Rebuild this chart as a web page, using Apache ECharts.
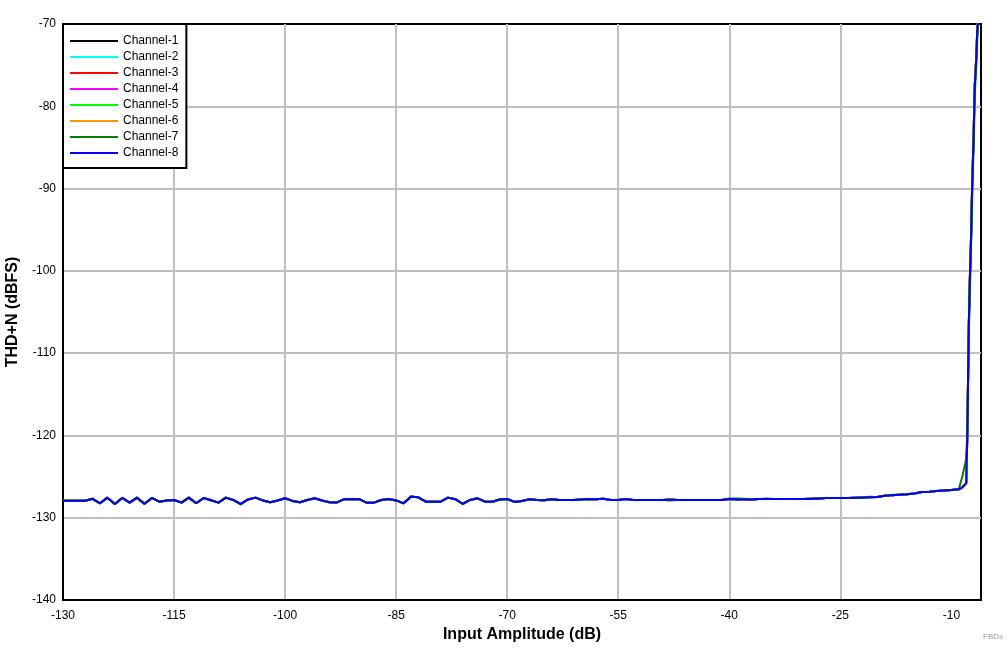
<!DOCTYPE html>
<html>
<head>
<meta charset="utf-8">
<script src="https://cdn.jsdelivr.net/npm/echarts@6/dist/echarts.min.js"></script>
<style>
html,body{margin:0;padding:0;background:#fff;}
#chart{width:1008px;height:652px;}
</style>
</head>
<body>
<div id="chart"></div>
<script>
// Input amplitude (dB) sample points
const inputAmplitude = [
-130,-129,-128,-127,-126,-125,-124,-123,-122,-121,
-120,-119,-118,-117,-116,-115,-114,-113,-112,-111,
-110,-109,-108,-107,-106,-105,-104,-103,-102,-101,
-100,-99,-98,-97,-96,-95,-94,-93,-92,-91,
-90,-89,-88,-87,-86,-85,-84,-83,-82,-81,
-80,-79,-78,-77,-76,-75,-74,-73,-72,-71,
-70,-69,-68,-67,-66,-65,-64,-63,-62,-61,
-60,-59,-58,-57,-56,-55,-54,-53,-52,-51,
-50,-49,-48,-47,-46,-45,-44,-43,-42,-41,
-40,-39,-38,-37,-36,-35,-34,-33,-32,-31,
-30,-29,-28,-27,-26,-25,-24,-23,-22,-21,
-20,-19,-18,-17,-16,-15,-14,-13,-12,-11,
-10,-9,
-8.5,-8,-7.85,-7.66,-7.53,-7.34,-7.2,-7,-6.85,-6.66,-6.5,-6.2
];

// THD+N (dBFS), Channel-8 (top trace, blue)
const ch8 = [
-127.93,-127.93,-127.93,-127.93,-127.70,-128.25,-127.56,-128.33,-127.60,-128.17,
-127.56,-128.33,-127.60,-128.05,-127.90,-127.84,-128.17,-127.56,-128.25,-127.60,
-127.87,-128.17,-127.56,-127.84,-128.33,-127.78,-127.56,-127.90,-128.12,-127.90,
-127.64,-127.96,-128.12,-127.84,-127.64,-127.90,-128.12,-128.14,-127.75,-127.72,
-127.75,-128.17,-128.17,-127.84,-127.72,-127.90,-128.25,-127.44,-127.52,-128.05,
-128.05,-128.05,-127.56,-127.75,-128.33,-127.84,-127.64,-128.05,-128.05,-127.78,
-127.72,-128.08,-127.96,-127.75,-127.84,-127.87,-127.75,-127.84,-127.84,-127.84,
-127.78,-127.72,-127.75,-127.69,-127.84,-127.84,-127.72,-127.84,-127.84,-127.84,
-127.84,-127.84,-127.78,-127.84,-127.84,-127.84,-127.84,-127.84,-127.84,-127.84,
-127.72,-127.80,-127.80,-127.80,-127.72,-127.72,-127.72,-127.72,-127.72,-127.72,
-127.72,-127.70,-127.69,-127.60,-127.60,-127.60,-127.60,-127.56,-127.56,-127.52,
-127.48,-127.32,-127.27,-127.20,-127.15,-127.05,-126.87,-126.83,-126.75,-126.69,
-126.63,-126.55,
-126.30,-125.80,-120.0,-107.2,-101.7,-95.85,-89.8,-83.7,-77.6,-74.4,-70.7,-66.0
];

// Channel-7 (green, peeks out slightly around the blue trace)
const ch7 = [
-127.93,-127.93,-127.93,-127.93,-127.70,-128.25,-127.56,-128.33,-127.60,-128.17,
-127.56,-128.25,-127.60,-128.05,-127.90,-127.84,-128.17,-127.56,-128.25,-127.60,
-127.87,-128.17,-127.56,-127.84,-128.40,-127.78,-127.56,-127.90,-128.12,-127.90,
-127.64,-127.96,-128.12,-127.84,-127.64,-127.90,-128.12,-128.14,-127.75,-127.72,
-127.75,-128.17,-128.17,-127.84,-127.72,-127.90,-128.25,-127.38,-127.52,-128.05,
-128.05,-128.05,-127.56,-127.75,-128.33,-127.84,-127.64,-128.05,-128.05,-127.78,
-127.72,-128.08,-127.96,-127.75,-127.84,-127.87,-127.75,-127.84,-127.84,-127.84,
-127.78,-127.72,-127.75,-127.69,-127.84,-127.84,-127.72,-127.84,-127.84,-127.84,
-127.84,-127.84,-127.90,-127.84,-127.84,-127.84,-127.84,-127.84,-127.84,-127.84,
-127.66,-127.66,-127.70,-127.80,-127.72,-127.66,-127.72,-127.72,-127.72,-127.72,
-127.72,-127.70,-127.62,-127.60,-127.60,-127.60,-127.60,-127.56,-127.50,-127.46,
-127.48,-127.32,-127.20,-127.20,-127.15,-127.05,-126.87,-126.83,-126.75,-126.69,
-126.63,-126.55,
-124.90,-122.90,-119.7,-108.4,-102.8,-96.8,-90.8,-84.7,-78.6,-75.4,-71.7,-67.0
];

// Channels 1-6 are hidden under Channel-8 in the picture: same readings
const ch1 = ch8, ch2 = ch8, ch3 = ch8, ch4 = ch8, ch5 = ch8, ch6 = ch8;

const channelNames = ['Channel-1','Channel-2','Channel-3','Channel-4','Channel-5','Channel-6','Channel-7','Channel-8'];
const channelValues = [ch1, ch2, ch3, ch4, ch5, ch6, ch7, ch8];
const channelColors = ['#000000','#00ffff','#ff0000','#ff00ff','#00ff00','#ff9900','#008000','#0000ff'];

const xTicks = [-130,-115,-100,-85,-70,-55,-40,-25,-10];

const FONT = '"Liberation Sans", Arial, sans-serif';

const chart = echarts.init(document.getElementById('chart'), null, {renderer: 'canvas'});

const series = channelNames.map((name, i) => ({
  name: name,
  type: 'line',
  symbol: 'none',
  showSymbol: false,
  clip: true,
  animation: false,
  lineStyle: {color: channelColors[i], width: 2},
  itemStyle: {color: channelColors[i]},
  data: inputAmplitude.map((x, k) => [x, channelValues[i][k]])
}));

chart.setOption({
  animation: false,
  backgroundColor: '#ffffff',
  grid: {
    left: 63, top: 24, right: 27, bottom: 52,
    outerBoundsMode: 'none',
    containLabel: false,
    show: true, borderColor: '#000', borderWidth: 2, backgroundColor: 'transparent'
  },
  legend: {
    orient: 'vertical',
    left: 63, top: 24,
    icon: 'path://M0,0H48V2H0Z',
    itemWidth: 48, itemHeight: 14, itemGap: 2,
    padding: [10, 8, 8, 7],
    backgroundColor: '#fff',
    borderColor: '#000', borderWidth: 2, borderRadius: 0,
    textStyle: {fontFamily: FONT, fontSize: 12, color: '#000', lineHeight: 14},
    data: channelNames
  },
  xAxis: {
    type: 'value',
    min: -130, max: -6,
    name: 'Input Amplitude (dB)',
    nameLocation: 'middle',
    nameGap: 26,
    nameTextStyle: {fontFamily: FONT, fontSize: 16, fontWeight: 'bold', color: '#000'},
    axisLine: {show: true, onZero: false, lineStyle: {color: '#000', width: 2}},
    axisTick: {show: false, customValues: xTicks},
    axisLabel: {customValues: xTicks, fontFamily: FONT, fontSize: 12, color: '#000', margin: 10},
    splitLine: {show: true, showMinLine: false, showMaxLine: false, lineStyle: {color: '#c0c0c0', width: 2}}
  },
  yAxis: {
    type: 'value',
    min: -140, max: -70, interval: 10,
    name: 'THD+N (dBFS)',
    nameLocation: 'middle',
    nameGap: 38,
    nameTextStyle: {fontFamily: FONT, fontSize: 16, fontWeight: 'bold', color: '#000'},
    axisLine: {show: true, onZero: false, lineStyle: {color: '#000', width: 2}},
    axisTick: {show: false},
    axisLabel: {fontFamily: FONT, fontSize: 12, color: '#000', margin: 7},
    splitLine: {show: true, showMinLine: false, showMaxLine: false, lineStyle: {color: '#c0c0c0', width: 2}}
  },
  graphic: [{
    type: 'text', left: 983, top: 633, z: 100,
    style: {text: 'FBD±', fontFamily: FONT, fontSize: 8, fill: '#999'}
  }],
  series: series
});
</script>
</body>
</html>
